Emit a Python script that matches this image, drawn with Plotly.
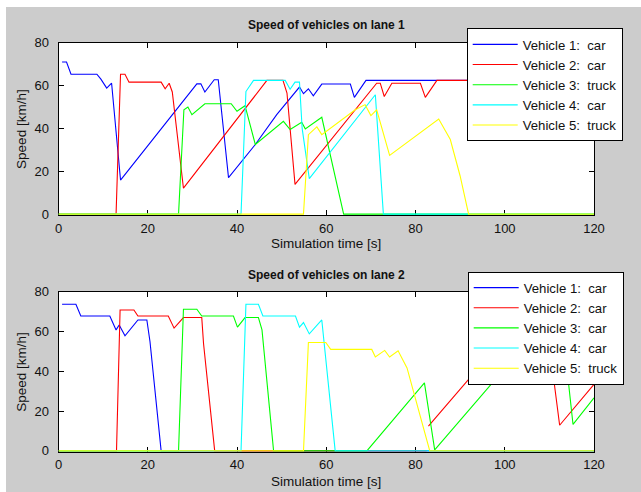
import plotly.graph_objects as go

# ---------------- data: lane 1 ----------------
l1_names = ["Vehicle 1:  car", "Vehicle 2:  car", "Vehicle 3:  truck", "Vehicle 4:  car", "Vehicle 5:  truck"]

l1_v1_t = [0.8, 1.8, 2.8, 8.6, 9.5, 10.8, 11.9, 13.9, 31.0, 31.9, 32.8, 34.9, 35.8, 38.1, 44.1, 48.9, 54.0, 54.9, 56.0, 57.1, 59.0, 65.4, 66.3, 68.9, 120]
l1_v1_s = [71, 71, 65.3, 65.3, 63, 58.8, 61.1, 15.9, 60.8, 60.8, 57, 62.7, 62.7, 17, 32.5, 46.4, 59.3, 56.2, 58.5, 55.2, 60.7, 60.7, 54.5, 62.4, 62.4]

l1_v2_t = [0, 12.9, 13.9, 14.9, 15.8, 23.0, 23.9, 24.8, 25.5, 28.0, 46.7, 50.3, 51.2, 53.0, 71.3, 72.1, 73.0, 74.7, 81.1, 82.2, 84.8, 120]
l1_v2_s = [0, 0, 65.3, 65.3, 61.6, 61.6, 58.5, 61.1, 57, 12.1, 62.4, 62.4, 56.5, 13.9, 61.1, 61.1, 54.9, 61.1, 61.1, 54.5, 62.4, 62.4]

l1_v3_t = [0, 26.9, 28.1, 29.0, 29.9, 32.8, 38.7, 40.0, 41.8, 44.1, 50.4, 51.9, 54.5, 55.3, 59.0, 63.9, 120]
l1_v3_s = [0, 0, 48.7, 50, 46.4, 51.5, 51.5, 48, 50.6, 32.5, 43.3, 39.5, 42.9, 39.8, 45.2, 0, 0]

l1_v4_t = [0, 40.9, 42.0, 43.7, 50.8, 51.9, 53.0, 54.0, 54.6, 56.2, 71.0, 72.8, 120]
l1_v4_s = [0, 0, 57.2, 62.4, 62.4, 58.3, 61.6, 61.6, 40, 16.6, 55.7, 0, 0]

l1_v5_t = [0, 54.9, 56.0, 57.9, 59.0, 66.5, 68.7, 70.0, 71.3, 74.2, 85.2, 87.8, 90.0, 91.9, 120]
l1_v5_s = [0, 0, 37.1, 40.7, 37.1, 48.7, 51.1, 46, 48.7, 27.4, 44.4, 34.8, 17.8, 0, 0]

# ---------------- data: lane 2 ----------------
l2_names = ["Vehicle 1:  car", "Vehicle 2:  car", "Vehicle 3:  car", "Vehicle 4:  car", "Vehicle 5:  truck"]

l2_v1_t = [0.8, 3.9, 5.0, 11.5, 12.9, 13.6, 14.9, 17.8, 19.8, 20.5, 23.0, 120]
l2_v1_s = [73.7, 73.7, 67.8, 67.8, 60.8, 63.3, 57.8, 65.8, 65.8, 55, 0, 0]

l2_v2_t = [0, 13.0, 13.8, 16.9, 17.8, 24.6, 25.9, 28.0, 32.1, 32.5, 35.0, 82.5, 82.7, 82.9, 91.9, 93.5, 100.2, 100.9, 101.6, 110.8, 112.3, 120]
l2_v2_s = [0, 0, 70.8, 70.8, 67.8, 67.8, 61.7, 67, 67, 54, 0, 0, None, 12.5, 35.9, 39, 39, 34.2, 39, 39, 12.9, 33.4]

l2_v3_t = [0, 26.9, 28.0, 31.0, 32.1, 39.2, 40.1, 41.8, 44.8, 45.6, 48.2, 69.1, 82.0, 84.3, 97.9, 103.5, 113.0, 114.2, 115.3, 120]
l2_v3_s = [0, 0, 71.2, 71.2, 67.8, 67.8, 62.2, 67, 67, 60.8, 0, 0, 34.2, 0.5, 35.9, 48, 48, 35.9, 13.3, 26.7]

l2_v4_t = [0, 40.9, 42.0, 44.8, 45.8, 53.1, 54.0, 54.9, 56.2, 59.0, 62.0, 120]
l2_v4_s = [0, 0, 73.7, 73.7, 67.8, 67.8, 62.2, 64.5, 58.8, 65.8, 0, 0]

l2_v5_t = [0, 54.9, 56.0, 59.9, 61.0, 70.2, 71.0, 73.1, 74.2, 76.1, 78.1, 83.2, 120]
l2_v5_s = [0, 0, 54.5, 54.5, 51, 51, 47.2, 50.5, 47.2, 50.3, 41.7, 0, 0]

colors = ["#0000ff", "#ff0000", "#00ff00", "#00ffff", "#ffff00"]

x_ticks = [0, 20, 40, 60, 80, 100, 120]
y_ticks = [0, 20, 40, 60, 80]

lane1 = [(l1_v1_t, l1_v1_s), (l1_v2_t, l1_v2_s), (l1_v3_t, l1_v3_s), (l1_v4_t, l1_v4_s), (l1_v5_t, l1_v5_s)]
lane2 = [(l2_v1_t, l2_v1_s), (l2_v2_t, l2_v2_s), (l2_v3_t, l2_v3_s), (l2_v4_t, l2_v4_s), (l2_v5_t, l2_v5_s)]

W, H = 641, 492
FONT = "Liberation Sans, Arial, sans-serif"
TXT = "#111111"

fig = go.Figure()
for i, (t, s) in enumerate(lane1):
    fig.add_trace(go.Scatter(x=t, y=s, mode="lines", name=l1_names[i],
                             line=dict(color=colors[i], width=1.1),
                             xaxis="x", yaxis="y", legend="legend", connectgaps=False))
for i, (t, s) in enumerate(lane2):
    fig.add_trace(go.Scatter(x=t, y=s, mode="lines", name=l2_names[i],
                             line=dict(color=colors[i], width=1.1),
                             xaxis="x2", yaxis="y2", legend="legend2", connectgaps=False))

def px_x(p):
    return p / W

def px_y(p):
    return 1 - p / H

xdom = [px_x(58.5), px_x(594)]
axis_common = dict(showline=True, linecolor="black", linewidth=1, mirror="ticks",
                   ticks="inside", ticklen=5, tickcolor="black", showgrid=False,
                   zeroline=False, automargin=False, layer="below traces",
                   tickfont=dict(family=FONT, size=13, color=TXT))

legend_common = dict(xanchor="left", yanchor="top", bgcolor="white", bordercolor="black",
                     borderwidth=1, font=dict(family=FONT, size=13.2, color=TXT),
                     itemwidth=45, tracegroupgap=0)

fig.update_layout(
    width=W, height=H, template="none",
    margin=dict(l=0, r=0, t=0, b=0),
    paper_bgcolor="#cccccc", plot_bgcolor="white",
    font=dict(family=FONT, color=TXT),
    xaxis=dict(domain=xdom, range=[0, 120], tickvals=x_ticks, anchor="y",
               ticklabelstandoff=1, **axis_common),
    yaxis=dict(domain=[px_y(215), px_y(42.7)], range=[-0.4, 80], tickvals=y_ticks, anchor="x",
               ticklabelstandoff=6, **axis_common),
    xaxis2=dict(domain=xdom, range=[0, 120], tickvals=x_ticks, anchor="y2",
                ticklabelstandoff=1, **axis_common),
    yaxis2=dict(domain=[px_y(451.7), px_y(291.7)], range=[-0.4, 80], tickvals=y_ticks, anchor="x2",
                ticklabelstandoff=6, **axis_common),
    legend=dict(x=px_x(466.7), y=px_y(28.3), **legend_common),
    legend2=dict(x=px_x(467.7), y=px_y(271.5), **legend_common),
    showlegend=True,
)

annotations = [
    dict(text="<b>Speed of vehicles on lane 1</b>", x=px_x(326), y=px_y(25), xref="paper", yref="paper",
         showarrow=False, xanchor="center", yanchor="middle", font=dict(family=FONT, size=12, color=TXT)),
    dict(text="<b>Speed of vehicles on lane 2</b>", x=px_x(326), y=px_y(275), xref="paper", yref="paper",
         showarrow=False, xanchor="center", yanchor="middle", font=dict(family=FONT, size=12, color=TXT)),
    dict(text="Simulation time [s]", x=px_x(326), y=px_y(243), xref="paper", yref="paper",
         showarrow=False, xanchor="center", yanchor="middle", font=dict(family=FONT, size=13.5, color=TXT)),
    dict(text="Simulation time [s]", x=px_x(326), y=px_y(481), xref="paper", yref="paper",
         showarrow=False, xanchor="center", yanchor="middle", font=dict(family=FONT, size=13.5, color=TXT)),
    dict(text="Speed [km/h]", x=px_x(22), y=px_y(128.9), xref="paper", yref="paper", textangle=-90,
         showarrow=False, xanchor="center", yanchor="middle", font=dict(family=FONT, size=13.5, color=TXT)),
    dict(text="Speed [km/h]", x=px_x(22), y=px_y(371.7), xref="paper", yref="paper", textangle=-90,
         showarrow=False, xanchor="center", yanchor="middle", font=dict(family=FONT, size=13.5, color=TXT)),
]
fig.update_layout(annotations=annotations)

# white border strips along top and left edge of the picture
fig.update_layout(shapes=[
    dict(type="rect", xref="paper", yref="paper", x0=0, x1=px_x(6), y0=0, y1=1,
         fillcolor="white", line=dict(width=0), layer="below"),
    dict(type="rect", xref="paper", yref="paper", x0=0, x1=1, y0=px_y(7), y1=1,
         fillcolor="white", line=dict(width=0), layer="below"),
])

fig.write_html("out.html", config={"displayModeBar": False},
               post_script="document.body.style.margin='0px';")
